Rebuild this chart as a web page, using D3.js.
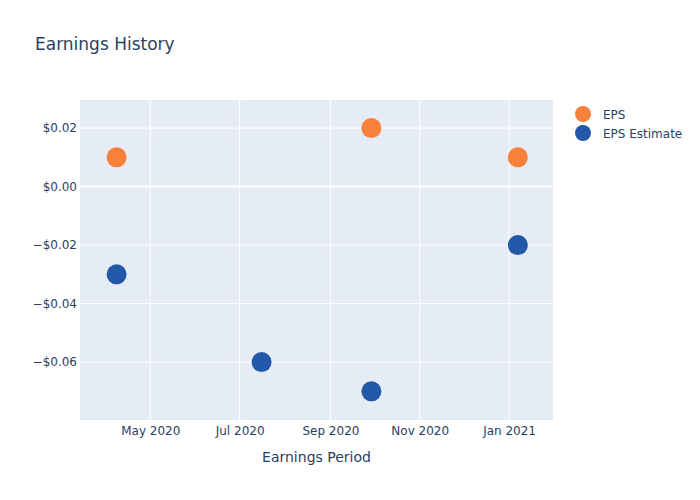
<!DOCTYPE html>
<html><head><meta charset="utf-8">
<script src="https://cdn.jsdelivr.net/npm/d3@7"></script>
<style>body{margin:0;background:#fff}svg{font-family:"DejaVu Sans",sans-serif}</style>
</head><body>
<svg id="c" width="700" height="500"></svg>
<script>
const periods = ["2020-04-08", "2020-07-16", "2020-09-29", "2021-01-07"];
const eps = [0.01, null, 0.02, 0.01];
const epsEstimate = [-0.03, -0.06, -0.07, -0.02];
const yTicks = [0.02, 0, -0.02, -0.04, -0.06];
const xTicks = ["2020-05-01", "2020-07-01", "2020-09-01", "2020-11-01", "2021-01-01"];
const seriesNames = ["EPS", "EPS Estimate"];
const seriesColors = ["#F7803A", "#2358A8"];

const parse = d3.timeParse("%Y-%m-%d");
const svg = d3.select("#c");
const L = 80, R = 553, T = 100, B = 420;
const x = d3.scaleTime().domain([parse("2020-03-14"), parse("2021-01-31")]).range([L, R]);
const y = d3.scaleLinear().domain([-0.0798, 0.0296]).range([B, T]);
const txt = "#2a3f5f";
const font = "DejaVu Sans";

svg.append("rect").attr("x", L).attr("y", T).attr("width", R - L).attr("height", B - T).attr("fill", "#E5ECF6");

const xAxis = d3.axisBottom(x).tickValues(xTicks.map(parse)).tickFormat(d3.timeFormat("%b %Y")).tickSize(0).tickPadding(6);
const gx = svg.append("g").attr("transform", `translate(0,${B})`).call(xAxis);
gx.select(".domain").remove();
gx.selectAll("text").attr("fill", txt).attr("font-size", 12).attr("font-family", font);
svg.append("g").selectAll("line").data(xTicks.map(parse)).join("line")
  .attr("x1", d => x(d)).attr("x2", d => x(d)).attr("y1", T).attr("y2", B)
  .attr("stroke", "#fff").attr("stroke-width", 1);

const fmt = v => (v < 0 ? "\u2212" : "") + "$" + Math.abs(v).toFixed(2);
const yAxis = d3.axisLeft(y).tickValues(yTicks).tickFormat(fmt).tickSize(0).tickPadding(3);
const gy = svg.append("g").attr("transform", `translate(${L},0)`).call(yAxis);
gy.select(".domain").remove();
gy.selectAll("text").attr("fill", txt).attr("font-size", 12).attr("font-family", font);
svg.append("g").selectAll("line").data(yTicks).join("line")
  .attr("x1", L).attr("x2", R).attr("y1", d => y(d)).attr("y2", d => y(d))
  .attr("stroke", "#fff").attr("stroke-width", d => d === 0 ? 2 : 1);

const series = [eps, epsEstimate];
series.forEach((vals, i) => {
  svg.append("g").selectAll("circle")
    .data(periods.map((p, j) => ({d: parse(p), v: vals[j]})).filter(o => o.v !== null))
    .join("circle")
    .attr("cx", o => x(o.d)).attr("cy", o => y(o.v)).attr("r", 10)
    .attr("fill", seriesColors[i]);
});

svg.append("text").attr("x", 35).attr("y", 50).attr("fill", txt).attr("font-size", 17).text("Earnings History");
svg.append("text").attr("x", (L + R) / 2).attr("y", 462).attr("text-anchor", "middle").attr("fill", txt).attr("font-size", 14).text("Earnings Period");

const lg = svg.append("g");
seriesNames.forEach((n, i) => {
  lg.append("circle").attr("cx", 583).attr("cy", 114 + i * 19).attr("r", 8).attr("fill", seriesColors[i]);
  lg.append("text").attr("x", 603).attr("y", 118.5 + i * 19).attr("fill", txt).attr("font-size", 12).text(n);
});
</script>
</body></html>
